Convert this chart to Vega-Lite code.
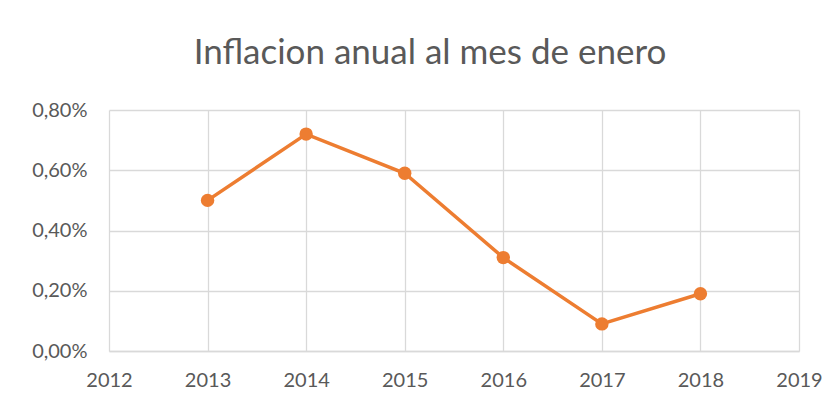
{
  "$schema": "https://vega.github.io/schema/vega-lite/v6.json",
  "width": 690,
  "height": 241,
  "autosize": {"type": "none"},
  "padding": {"left": 109, "top": 110, "right": 41, "bottom": 55},
  "background": "white",
  "title": {
    "text": "Inflacion anual al mes de enero",
    "font": "Lato",
    "fontSize": 35,
    "fontWeight": "normal",
    "color": "#595959",
    "anchor": "middle",
    "offset": 29,
    "dx": -24
  },
  "config": {
    "view": {"stroke": null},
    "axis": {
      "labelFont": "Lato",
      "labelFontSize": 20,
      "labelColor": "#595959",
      "gridColor": "#d9d9d9",
      "gridWidth": 1.3,
      "ticks": false,
      "title": null
    }
  },
  "data": {
    "values": [
      {"year": 2013, "rate": 0.0050},
      {"year": 2014, "rate": 0.0072},
      {"year": 2015, "rate": 0.0059},
      {"year": 2016, "rate": 0.0031},
      {"year": 2017, "rate": 0.0009},
      {"year": 2018, "rate": 0.0019}
    ]
  },
  "mark": {"type": "line", "color": "#ED7D31", "strokeWidth": 3.5, "point": {"filled": true, "size": 180, "color": "#ED7D31", "opacity": 1}},
  "encoding": {
    "x": {
      "field": "year",
      "type": "quantitative",
      "scale": {"domain": [2012, 2019], "nice": false, "zero": false},
      "axis": {
        "values": [2012, 2013, 2014, 2015, 2016, 2017, 2018, 2019],
        "format": "d",
        "labelPadding": 19,
        "domainColor": "#d9d9d9",
        "domainWidth": 1.3,
        "labelFlush": false
      }
    },
    "y": {
      "field": "rate",
      "type": "quantitative",
      "scale": {"domain": [0, 0.008], "nice": false},
      "axis": {
        "values": [0, 0.002, 0.004, 0.006, 0.008],
        "labelExpr": "replace(format(datum.value, '.2%'), '.', ',')",
        "labelPadding": 22,
        "domain": false
      }
    }
  }
}
